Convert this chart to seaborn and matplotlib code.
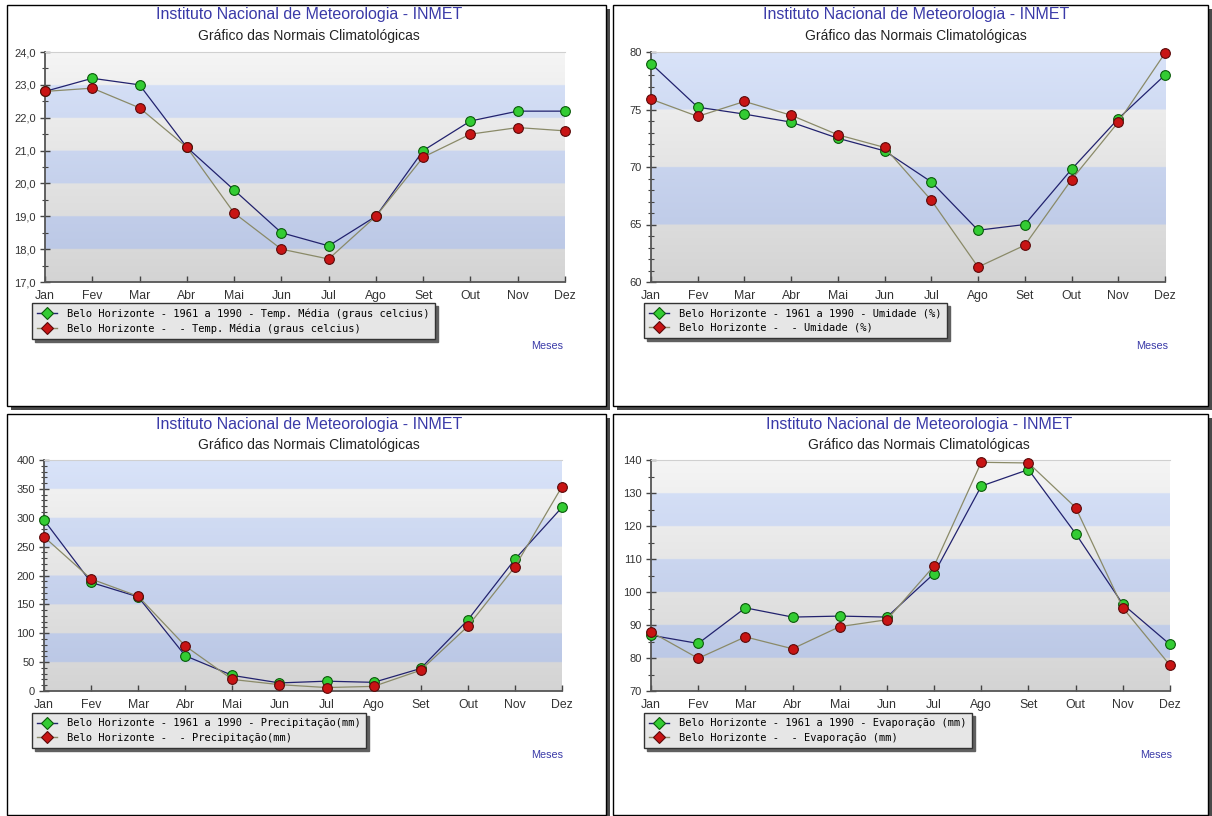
import numpy as np
import matplotlib
matplotlib.use("Agg")
import matplotlib.pyplot as plt
import seaborn as sns
from matplotlib.lines import Line2D
from matplotlib.patches import Rectangle
from matplotlib.ticker import MultipleLocator, FuncFormatter

# data
months = ["Jan", "Fev", "Mar", "Abr", "Mai", "Jun", "Jul", "Ago", "Set", "Out", "Nov", "Dez"]

temp_normal = [22.8, 23.2, 23.0, 21.1, 19.8, 18.5, 18.1, 19.0, 21.0, 21.9, 22.2, 22.2]
temp_recent = [22.8, 22.9, 22.3, 21.1, 19.1, 18.0, 17.7, 19.0, 20.8, 21.5, 21.7, 21.6]

umid_normal = [79.0, 75.2, 74.6, 73.9, 72.5, 71.4, 68.7, 64.5, 65.0, 69.8, 74.2, 78.0]
umid_recent = [75.9, 74.4, 75.7, 74.5, 72.8, 71.7, 67.1, 61.3, 63.2, 68.9, 73.9, 79.9]

prec_normal = [296, 188, 163, 61, 27, 14, 17, 15, 39, 123, 228, 318]
prec_recent = [267, 194, 164, 78, 20, 11, 6, 8, 36, 112, 215, 354]

evap_normal = [86.9, 84.4, 95.2, 92.4, 92.7, 92.4, 105.6, 132.1, 137.1, 117.7, 96.3, 84.1]
evap_recent = [87.9, 79.9, 86.4, 82.8, 89.5, 91.6, 107.9, 139.3, 139.1, 125.6, 95.2, 77.8]

labels_normal = [
    "Belo Horizonte - 1961 a 1990 - Temp. Média (graus celcius)",
    "Belo Horizonte - 1961 a 1990 - Umidade (%)",
    "Belo Horizonte - 1961 a 1990 - Precipitação(mm)",
    "Belo Horizonte - 1961 a 1990 - Evaporação (mm)",
]
labels_recent = [
    "Belo Horizonte -  - Temp. Média (graus celcius)",
    "Belo Horizonte -  - Umidade (%)",
    "Belo Horizonte -  - Precipitação(mm)",
    "Belo Horizonte -  - Evaporação (mm)",
]

title = "Instituto Nacional de Meteorologia - INMET"
subtitle = "Gráfico das Normais Climatológicas"

W, H = 1212, 816
fig = plt.figure(figsize=(W / 100, H / 100), dpi=100)
fig.patch.set_facecolor("white")

plt.rcParams["font.family"] = ["Liberation Sans", "DejaVu Sans"]

GREEN_LINE = "#22226e"
RED_LINE = "#8a8a68"
TITLE_BLUE = "#3a3aa8"


def box(l, t, r, b):
    return [l / W, 1 - b / H, (r - l) / W, (b - t) / H]


def band_image(ymin, ymax, step, n=800):
    y = np.linspace(ymin, ymax, n)
    t = ((y - ymin) / (ymax - ymin))[:, None]
    gray_lo, gray_hi = np.array([0.83, 0.83, 0.83]), np.array([0.96, 0.96, 0.96])
    blue_lo, blue_hi = np.array([0.72, 0.77, 0.89]), np.array([0.85, 0.89, 0.975])
    gray = gray_lo + (gray_hi - gray_lo) * t
    blue = blue_lo + (blue_hi - blue_lo) * t
    idx = np.floor((y - ymin) / step + 1e-9).astype(int)
    idx = np.clip(idx, 0, None)
    img = np.where((idx % 2 == 0)[:, None], gray, blue)
    return img[:, None, :]


panels = [
    dict(frame=(7, 5, 606, 406), axes=(45, 52, 565, 282), leg=(32, 303), meses=(563, 346),
         tx=309, ty=(14, 36), data=(temp_normal, temp_recent), ylim=(17, 24), major=1, minor=0.5,
         fmt=lambda v, p: f"{v:.1f}".replace(".", ",")),
    dict(frame=(613, 5, 1208, 406), axes=(651, 52, 1165, 282), leg=(644, 303), meses=(1168, 346),
         tx=916, ty=(14, 36), data=(umid_normal, umid_recent), ylim=(60, 80), major=5, minor=1,
         fmt=lambda v, p: f"{v:.0f}"),
    dict(frame=(7, 414, 606, 815), axes=(44, 460, 562, 691), leg=(32, 713), meses=(563, 755),
         tx=309, ty=(424, 445), data=(prec_normal, prec_recent), ylim=(0, 400), major=50, minor=10,
         fmt=lambda v, p: f"{v:.0f}"),
    dict(frame=(613, 414, 1208, 815), axes=(651, 460, 1170, 691), leg=(644, 713), meses=(1172, 755),
         tx=919, ty=(424, 445), data=(evap_normal, evap_recent), ylim=(70, 140), major=10, minor=5,
         fmt=lambda v, p: f"{v:.0f}"),
]

x = np.arange(len(months))

for i, p in enumerate(panels):
    l, t, r, b = p["frame"]
    # panel frame with drop shadow
    fig.add_artist(Rectangle(((l + 4) / W, 1 - (b + 4) / H), (r - l) / W, (b - t) / H,
                             transform=fig.transFigure, facecolor="#4a4a4a", edgecolor="none", zorder=-10))
    fig.add_artist(Rectangle((l / W, 1 - b / H), (r - l) / W, (b - t) / H,
                             transform=fig.transFigure, facecolor="white", edgecolor="black",
                             linewidth=1, zorder=-9))

    fig.text(p["tx"] / W, 1 - p["ty"][0] / H, title, ha="center", va="center",
             fontsize=11.5, color=TITLE_BLUE)
    fig.text(p["tx"] / W, 1 - p["ty"][1] / H, subtitle, ha="center", va="center",
             fontsize=10, color="#222222")

    ax = fig.add_axes(box(*p["axes"]))
    ax.patch.set_visible(False)
    ymin, ymax = p["ylim"]
    ax.imshow(band_image(ymin, ymax, p["major"]), origin="lower", aspect="auto",
              extent=(0, len(months) - 1, ymin, ymax), interpolation="bilinear", zorder=0)

    normal, recent = p["data"]
    sns.lineplot(x=x, y=normal, ax=ax, color=GREEN_LINE, linewidth=0.9, marker="o",
                 markersize=7, markerfacecolor="#33cc33", markeredgecolor="#0a5a0a",
                 markeredgewidth=0.8, zorder=3, legend=False)
    sns.lineplot(x=x, y=recent, ax=ax, color=RED_LINE, linewidth=0.9, marker="o",
                 markersize=7, markerfacecolor="#c81414", markeredgecolor="#5a0a0a",
                 markeredgewidth=0.8, zorder=4, legend=False)
    for ln in ax.lines:
        ln.set_clip_on(False)

    ax.set_xlim(0, len(months) - 1)
    ax.set_ylim(ymin, ymax)
    ax.set_xticks(x)
    ax.set_xticklabels(months)
    ax.yaxis.set_major_locator(MultipleLocator(p["major"]))
    ax.yaxis.set_minor_locator(MultipleLocator(p["minor"]))
    ax.yaxis.set_major_formatter(FuncFormatter(p["fmt"]))
    ax.set_xlabel("")
    ax.set_ylabel("")

    ax.tick_params(axis="x", direction="in", length=4, width=1, color="#444444",
                   labelsize=8.8, labelcolor="#333333", pad=6)
    ax.tick_params(axis="y", which="major", direction="inout", length=7, width=1,
                   color="#444444", labelsize=8, labelcolor="#333333", pad=3)
    ax.tick_params(axis="y", which="minor", direction="inout", length=4, width=0.8,
                   color="#444444")
    for s in ["left", "bottom"]:
        ax.spines[s].set_color("#555555")
        ax.spines[s].set_linewidth(1.3)
    ax.spines["right"].set_visible(False)
    ax.spines["top"].set_color("#d0d0d0")
    ax.spines["top"].set_linewidth(0.8)

    handles = [
        Line2D([], [], color=GREEN_LINE, linewidth=1.0, marker="D", markersize=6,
               markerfacecolor="#33cc33", markeredgecolor="#0a5a0a", markeredgewidth=0.8),
        Line2D([], [], color=RED_LINE, linewidth=1.0, marker="D", markersize=6,
               markerfacecolor="#c81414", markeredgecolor="#5a0a0a", markeredgewidth=0.8),
    ]
    lx, ly = p["leg"]
    leg = fig.legend(handles, [labels_normal[i], labels_recent[i]], loc="upper left",
                     bbox_to_anchor=(lx / W, 1 - ly / H), bbox_transform=fig.transFigure,
                     borderaxespad=0, frameon=True, fancybox=False,
                     shadow={"color": "#606060", "alpha": 1.0},
                     prop={"family": "DejaVu Sans Mono", "size": 7.5},
                     handlelength=1.9, handletextpad=1.0, labelspacing=0.45,
                     borderpad=0.5, facecolor="#e6e6e6", framealpha=1.0, edgecolor="#333333")
    leg.get_frame().set_linewidth(1.0)

    mx, my = p["meses"]
    fig.text(mx / W, 1 - my / H, "Meses", ha="right", va="center", fontsize=7.8, color=TITLE_BLUE)

fig.savefig("out.png", dpi=100, facecolor="white")
